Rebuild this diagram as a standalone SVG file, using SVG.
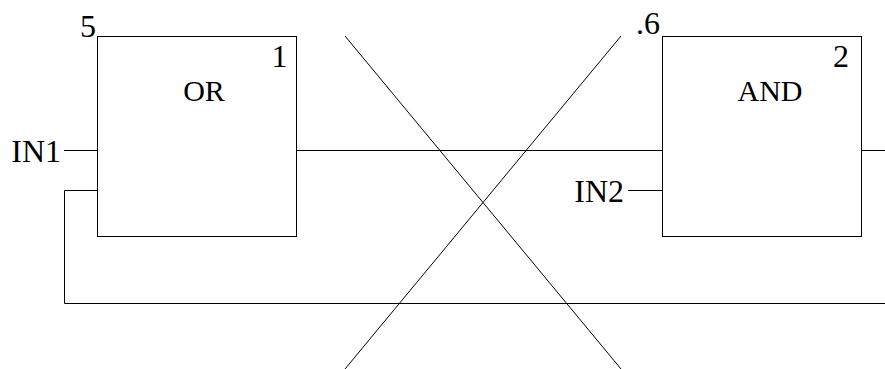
<svg xmlns="http://www.w3.org/2000/svg" width="885" height="369" viewBox="0 0 885 369">
<style>
.box{fill:#fff;stroke:#000;stroke-width:1}
.ln{fill:none;stroke:#000;stroke-width:1}
.nm{font-size:30px;text-anchor:middle}
.lb{font-size:32px}
</style>
<rect width="885" height="369" fill="#fff"/>
<g id="connectors">
<line class="ln" x1="64" y1="150.5" x2="97.5" y2="150.5"/>
<line class="ln" x1="296.5" y1="150.5" x2="662.5" y2="150.5"/>
<line class="ln" x1="861.5" y1="150.5" x2="885" y2="150.5"/>
<line class="ln" x1="628" y1="190.5" x2="662.5" y2="190.5"/>
<path class="ln" d="M97.5 190.5 H64.5 V303.5 H885"/>
</g>
<g font-family="'Liberation Serif', 'DejaVu Serif', serif" fill="#000">
<g id="node-or">
<rect class="box" x="97.5" y="36.5" width="199" height="200"/>
<text class="nm" x="204" y="101">OR</text>
<text class="lb" x="271.5" y="67">1</text>
<text class="lb" x="80" y="37">5</text>
</g>
<g id="node-and">
<rect class="box" x="662.5" y="36.5" width="199" height="200"/>
<text class="nm" x="770" y="101">AND</text>
<text class="lb" x="833" y="67">2</text>
<text class="lb" x="636" y="34">.6</text>
</g>
<g id="in1"><text class="lb" x="61" y="162" text-anchor="end">IN1</text></g>
<g id="in2"><text class="lb" x="624" y="202" text-anchor="end">IN2</text></g>
</g>
<g id="cross">
<line class="ln" x1="345" y1="36" x2="621" y2="369"/>
<line class="ln" x1="621" y1="36" x2="345" y2="369"/>
</g>
</svg>
